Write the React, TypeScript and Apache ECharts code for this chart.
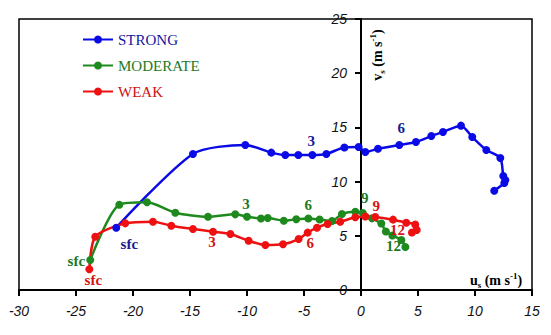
import React, { useEffect, useRef } from "react";
import * as echarts from "echarts";

const xTicks = { min: -30, max: 15, interval: 5 };
const yTicks = { min: 0, max: 25, interval: 5 };

const strongU = [-21.47, -14.74, -10.15, -7.87, -6.64, -5.5, -4.27, -3.04, -1.46, -0.21, 0.38, 1.49, 3.36, 4.82, 6.17, 7.19, 8.77, 9.76, 10.99, 12.22, 12.48, 12.66, 12.57, 11.69];
const strongV = [5.75, 12.55, 13.38, 12.67, 12.45, 12.45, 12.45, 12.55, 13.15, 13.19, 12.73, 13.03, 13.38, 13.65, 14.2, 14.58, 15.16, 14.11, 12.92, 12.18, 10.52, 10.15, 9.87, 9.16];

const moderateU = [-23.75, -21.2, -18.77, -16.29, -13.42, -11.03, -10.0, -8.77, -8.18, -6.77, -5.68, -4.62, -3.63, -2.54, -1.67, -0.5, 0.16, 0.96, 1.78, 2.18, 2.75, 3.54, 3.89];
const moderateV = [2.77, 7.87, 8.09, 7.13, 6.76, 6.98, 6.76, 6.6, 6.64, 6.39, 6.52, 6.6, 6.5, 6.37, 7.01, 7.22, 7.1, 6.61, 6.13, 5.4, 5.03, 4.61, 3.97];

const weakU = [-23.83, -23.31, -20.68, -18.25, -16.64, -14.74, -12.98, -11.46, -9.86, -8.39, -6.84, -5.47, -4.68, -3.86, -2.93, -1.82, -0.5, 0.38, 1.25, 2.81, 3.97, 4.76, 4.89, 4.47];
const weakV = [1.91, 4.92, 6.15, 6.3, 5.93, 5.63, 5.38, 5.17, 4.55, 4.15, 4.22, 4.7, 5.29, 5.75, 6.09, 6.3, 6.71, 6.78, 6.73, 6.49, 6.21, 6.04, 5.54, 5.3];

const strongLabelText = ["sfc", "3", "6"];
const strongLabelU = [-20.32, -4.36, 3.54];
const strongLabelV = [4.24, 13.75, 14.94];

const moderateLabelText = ["sfc", "3", "6", "9", "12"];
const moderateLabelU = [-24.97, -10.09, -4.62, 0.32, 2.85];
const moderateLabelV = [2.68, 7.91, 7.84, 8.51, 4.1];

const weakLabelText = ["sfc", "3", "6", "9", "12"];
const weakLabelU = [-23.48, -13.07, -4.45, 1.34, 3.2];
const weakLabelV = [0.92, 4.46, 4.36, 7.78, 5.5];

const SERIF = "'Liberation Serif', 'DejaVu Serif', serif";
const SANS = "'Liberation Sans', 'DejaVu Sans', sans-serif";

function zip(u: number[], v: number[]) {
  return u.map((x, i) => [x, v[i]]);
}

function makeSeries(
  name: string,
  color: string,
  labelColor: string,
  u: number[],
  v: number[],
  lt: string[],
  lu: number[],
  lv: number[]
) {
  return {
    name,
    type: "line",
    data: zip(u, v),
    smooth: 0.25,
    symbol: "circle",
    symbolSize: 8,
    showSymbol: true,
    lineStyle: { color, width: 2.5 },
    itemStyle: { color },
    z: 3,
    markPoint: {
      symbol: "circle",
      symbolSize: 1,
      silent: true,
      itemStyle: { color: "rgba(0,0,0,0)" },
      label: {
        show: true,
        position: "inside",
        formatter: (p: any) => p.name,
        color: labelColor,
        fontFamily: SERIF,
        fontSize: 15,
        fontWeight: "bold",
      },
      data: lt.map((t, i) => ({ name: t, coord: [lu[i], lv[i]] })),
    },
  };
}

export default function App() {
  const ref = useRef<HTMLDivElement>(null);
  useEffect(() => {
    if (!ref.current) return;
    const chart = echarts.init(ref.current, undefined, { renderer: "svg" });
    const blue = "#0a0ae6";
    const green = "#1e8a1e";
    const red = "#ee1111";
    const gridLeft = 19;
    const gridRight = 19;
    const plotW = 551 - gridLeft - gridRight;
    const zeroX = gridLeft + ((0 - xTicks.min) / (xTicks.max - xTicks.min)) * plotW;
    const legendText = (color: string) => ({ color, fontFamily: SERIF, fontSize: 15 });
    const nameRich = {
      b: { fontFamily: SERIF, fontSize: 14, fontWeight: "bold", lineHeight: 18, fill: "#000" },
      s: { fontFamily: SERIF, fontSize: 9, fontWeight: "bold", lineHeight: 10, verticalAlign: "bottom", fill: "#000" },
      p: { fontFamily: SERIF, fontSize: 9, fontWeight: "bold", lineHeight: 10, verticalAlign: "top", fill: "#000" },
    };
    const option: any = {
      animation: false,
      backgroundColor: "#ffffff",
      grid: {
        left: gridLeft,
        top: 19,
        right: gridRight,
        bottom: 45,
        show: true,
        borderColor: "#000",
        borderWidth: 1.5,
        backgroundColor: "transparent",
        containLabel: false,
        outerBoundsMode: "none",
      },
      legend: {
        orient: "vertical",
        left: 77,
        top: 27,
        itemWidth: 30,
        itemHeight: 10,
        itemGap: 11,
        textStyle: legendText("#000"),
        data: [
          { name: "STRONG", textStyle: legendText("#1414a0") },
          { name: "MODERATE", textStyle: legendText("#1e7a1e") },
          { name: "WEAK", textStyle: legendText("#d01010") },
        ],
      },
      xAxis: {
        type: "value",
        min: xTicks.min,
        max: xTicks.max,
        interval: xTicks.interval,
        axisLine: { show: true, onZero: false, lineStyle: { color: "#000", width: 2 } },
        axisTick: { show: true, length: 6, inside: false, lineStyle: { color: "#000", width: 2 } },
        axisLabel: {
          margin: 14,
          color: "#111",
          fontFamily: SANS,
          fontStyle: "italic",
          fontSize: 14,
        },
        splitLine: { show: false },
      },
      yAxis: {
        type: "value",
        position: "left",
        offset: -(zeroX - gridLeft),
        min: yTicks.min,
        max: yTicks.max,
        interval: yTicks.interval,
        axisLine: { show: true, onZero: false, lineStyle: { color: "#000", width: 2 } },
        axisTick: { show: true, length: 6, inside: false, lineStyle: { color: "#000", width: 2 } },
        axisLabel: {
          margin: 14,
          color: "#111",
          fontFamily: SANS,
          fontStyle: "italic",
          fontSize: 14,
        },
        splitLine: { show: false },
      },
      graphic: [
        {
          type: "text",
          x: 377,
          y: 55,
          rotation: Math.PI / 2,
          z: 10,
          style: {
            text: "{b|v}{s|s}{b| (m s}{p|-1}{b|)}",
            align: "center",
            verticalAlign: "middle",
            fill: "#000",
            rich: nameRich,
          },
        },
        {
          type: "text",
          x: 496,
          y: 280,
          z: 10,
          style: {
            text: "{b|u}{s|s}{b| (m s}{p|-1}{b|)}",
            align: "center",
            verticalAlign: "middle",
            fill: "#000",
            rich: nameRich,
          },
        },
      ],
      series: [
        makeSeries("STRONG", blue, "#1a1a96", strongU, strongV, strongLabelText, strongLabelU, strongLabelV),
        makeSeries("MODERATE", green, "#1e7a1e", moderateU, moderateV, moderateLabelText, moderateLabelU, moderateLabelV),
        makeSeries("WEAK", red, "#d41414", weakU, weakV, weakLabelText, weakLabelU, weakLabelV),
      ],
    };
    chart.setOption(option);
    return () => chart.dispose();
  }, []);
  return (
    <div
      ref={ref}
      style={{ position: "fixed", left: 0, top: 0, width: 551, height: 335, background: "#fff" }}
    />
  );
}
